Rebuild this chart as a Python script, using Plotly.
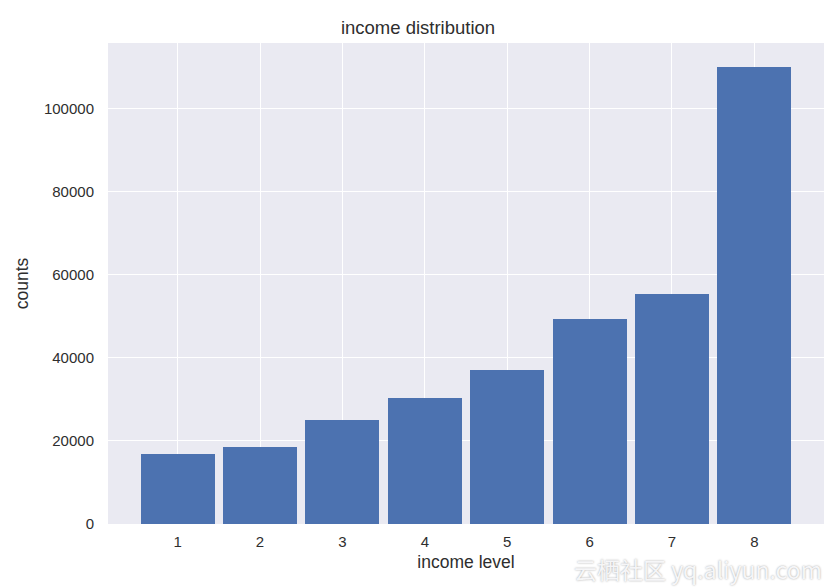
import plotly.graph_objects as go

levels = [1, 2, 3, 4, 5, 6, 7, 8]
counts = [16960, 18550, 25060, 30360, 37110, 49250, 55280, 110120]
y_ticks = [0, 20000, 40000, 60000, 80000, 100000]

fig = go.Figure()
fig.add_trace(go.Bar(
    x=levels, y=counts, width=0.9,
    marker=dict(color="#4c72b0", line=dict(width=0)),
))

fig.update_layout(
    width=836, height=587,
    margin=dict(l=108, r=12, t=43, b=63),
    paper_bgcolor="white", plot_bgcolor="#eaeaf2",
    font=dict(family="Liberation Sans, Arial, sans-serif", color="#2e2e2e", size=15),
    title=dict(text="income distribution", x=0.5, xanchor="center",
               y=1 - 28/587, yanchor="middle", font=dict(size=18.5)),
    showlegend=False,
    bargap=0,
)
fig.update_xaxes(
    range=[0.155, 8.845], tickvals=levels, ticktext=[str(v) for v in levels],
    showgrid=True, gridcolor="white", gridwidth=1.2, zeroline=False,
    ticks="outside", ticklen=4, tickcolor="rgba(0,0,0,0)",
    title=dict(text="income level", font=dict(size=17.5), standoff=6),
    showline=False,
)
fig.update_yaxes(
    range=[0, 115800], tickvals=y_ticks, ticktext=[str(v) for v in y_ticks],
    showgrid=True, gridcolor="white", gridwidth=1.2, zeroline=False,
    ticks="outside", ticklen=10, tickcolor="rgba(0,0,0,0)",
    title=dict(text="counts", font=dict(size=17.5), standoff=10),
    showline=False,
)
fig.add_annotation(
    text="云栖社区 yq.aliyun.com", xref="paper", yref="paper",
    x=1.0, y=(524 - 569) / 481, xanchor="right", yanchor="middle",
    showarrow=False,
    font=dict(size=23, color="rgba(250,250,252,0.95)",
              family="Noto Sans CJK SC, sans-serif",
              shadow="0px 0px 2px #9a9a9a"),
)
fig.write_html("out.html")
